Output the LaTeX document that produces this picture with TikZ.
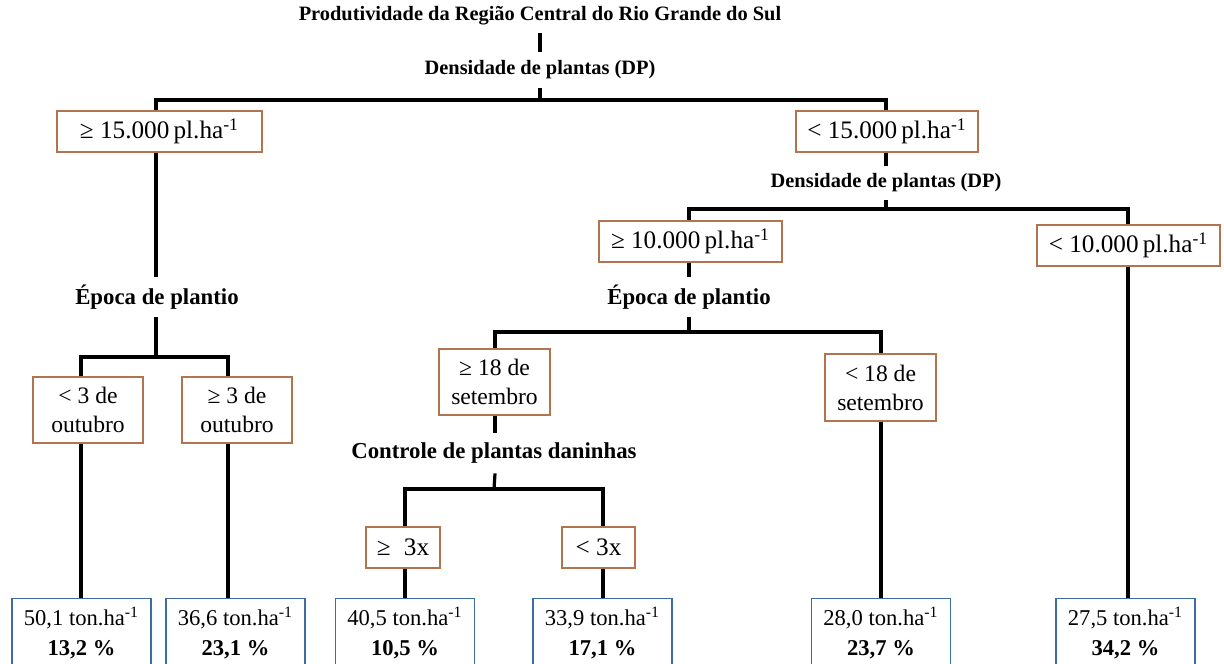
\documentclass[tikz,border=0pt]{standalone}
\usepackage{fontspec}
\setmainfont{Liberation Serif}
\definecolor{boxbrown}{RGB}{176,116,78}
\definecolor{leafblue}{RGB}{62,108,158}
\begin{document}
\begin{tikzpicture}[x=0.5pt,y=-0.5pt,
  conn/.style={line width=1.6pt,black},
  lbl/.style={inner sep=0pt,minimum height=18pt,font=\fontsize{10.2}{12}\selectfont\bfseries},
  biglbl/.style={lbl,font=\fontsize{11.4}{13}\selectfont\bfseries},
  cbox/.style={draw=boxbrown,line width=0.7pt,fill=white,inner sep=0pt,align=center,
    font=\fontsize{11.8}{14.5}\selectfont},
  dbox/.style={cbox,font=\fontsize{12.6}{15}\selectfont},
  leaf/.style={draw=leafblue,line width=0.7pt,fill=white,inner sep=0pt,align=center,
    anchor=north,minimum width=69.5pt,minimum height=34pt,font=\fontsize{11.3}{15}\selectfont}]
\useasboundingbox (0,0) rectangle (1224,663);
\clip (0,0) rectangle (1224,663);
% label nodes
\node[lbl,minimum height=17pt] (title) at (540,16) {Produtividade da Região Central do Rio Grande do Sul};
\node[lbl,minimum height=17.5pt] (dp1) at (540,70) {Densidade de plantas (DP)};
\node[lbl,minimum height=16.5pt] (dp2) at (886,183) {Densidade de plantas (DP)};
\node[biglbl,minimum height=20pt] (ep1) at (157,297) {Época de plantio};
\node[biglbl,minimum height=20pt] (ep2) at (689,297) {Época de plantio};
\node[biglbl,minimum height=20pt] (ctrl) at (494,453) {Controle de plantas daninhas};
% condition boxes
\node[dbox,minimum width=102.5pt,minimum height=20.5pt] (d15a) at (159.5,131.5) {≥ 15.000\,pl.ha\textsuperscript{-1}};
\node[dbox,minimum width=91pt,minimum height=20.5pt] (d15b) at (887,131.5) {< 15.000\,pl.ha\textsuperscript{-1}};
\node[dbox,minimum width=91.5pt,minimum height=20.5pt] (d10a) at (690.5,241.5) {≥ 10.000\,pl.ha\textsuperscript{-1}};
\node[dbox,minimum width=91.5pt,minimum height=20.5pt] (d10b) at (1128.5,245.5) {< 10.000\,pl.ha\textsuperscript{-1}};
\node[cbox,minimum width=55pt,minimum height=33pt] (oct1) at (88,410) {< 3 de\\outubro};
\node[cbox,minimum width=55pt,minimum height=33pt] (oct2) at (237,410) {≥ 3 de\\outubro};
\node[cbox,minimum width=55.5pt,minimum height=33pt] (set1) at (494.5,382) {≥ 18 de\\setembro};
\node[cbox,minimum width=55.5pt,minimum height=33.5pt] (set2) at (880.5,387.5) {< 18 de\\setembro};
\node[dbox,minimum width=37pt,minimum height=20.5pt] (c1) at (403,547.5) {≥\; 3x};
\node[dbox,minimum width=36.5pt,minimum height=20.5pt] (c2) at (598.5,547.5) {< 3x};
% leaves
\node[leaf] (l1) at (81.5,598) {50,1 ton.ha\textsuperscript{-1}\\\textbf{13,2 \%}};
\node[leaf] (l2) at (235.5,598) {36,6 ton.ha\textsuperscript{-1}\\\textbf{23,1 \%}};
\node[leaf] (l3) at (405,598) {40,5 ton.ha\textsuperscript{-1}\\\textbf{10,5 \%}};
\node[leaf] (l4) at (602.5,598) {33,9 ton.ha\textsuperscript{-1}\\\textbf{17,1 \%}};
\node[leaf] (l5) at (881,598) {28,0 ton.ha\textsuperscript{-1}\\\textbf{23,7 \%}};
\node[leaf] (l6) at (1125.5,598) {27,5 ton.ha\textsuperscript{-1}\\\textbf{34,2 \%}};
% column and junction coordinates
\coordinate (cA) at (156,0);
\coordinate (cB) at (886,0);
\coordinate (cC) at (689,0);
\coordinate (cD) at (1128,0);
\coordinate (cE) at (81,0);
\coordinate (cF) at (228,0);
\coordinate (cG) at (495,0);
\coordinate (cH) at (881,0);
\coordinate (cI) at (405,0);
\coordinate (cJ) at (603,0);
\coordinate (j1) at (540,100);
\coordinate (j2) at (156,357);
\coordinate (j3) at (886,209);
\coordinate (j4) at (689,332);
\coordinate (j5) at (494,489);
% connectors
\draw[conn] (title.south) -- (dp1.north);
\draw[conn] (dp1.south) -- (j1);
\draw[conn] (d15a.north -| cA) |- (j1) -| (d15b.north -| cB);
\draw[conn] (d15a.south -| cA) -- (ep1.north -| cA);
\draw[conn] (ep1.south -| cA) -- (j2);
\draw[conn] (oct1.north -| cE) |- (j2) -| (oct2.north -| cF);
\draw[conn] (oct1.south -| cE) -- (l1.north -| cE);
\draw[conn] (oct2.south -| cF) -- (l2.north -| cF);
\draw[conn] (d15b.south -| cB) -- (dp2.north -| cB);
\draw[conn] (dp2.south -| cB) -- (j3);
\draw[conn] (d10a.north -| cC) |- (j3) -| (d10b.north -| cD);
\draw[conn] (d10b.south -| cD) -- (l6.north -| cD);
\draw[conn] (d10a.south -| cC) -- (ep2.north -| cC);
\draw[conn] (ep2.south -| cC) -- (j4);
\draw[conn] (set1.north -| cG) |- (j4) -| (set2.north -| cH);
\draw[conn] (set2.south -| cH) -- (l5.north -| cH);
\draw[conn] (set1.south -| cG) -- (ctrl.north -| cG);
\draw[conn] (ctrl.south -| cG) -- (j5);
\draw[conn] (c1.north -| cI) |- (j5) -| (c2.north -| cJ);
\draw[conn] (c1.south -| cI) -- (l3.north -| cI);
\draw[conn] (c2.south -| cJ) -- (l4.north -| cJ);
\end{tikzpicture}
\end{document}
